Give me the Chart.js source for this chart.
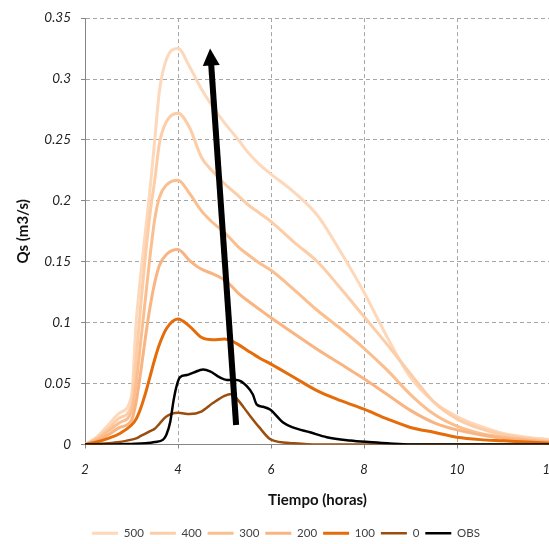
<!DOCTYPE html>
<html lang="es">
<head>
<meta charset="UTF-8">
<title>Qs vs Tiempo</title>
<script src="https://cdn.jsdelivr.net/npm/chart.js@4.4.1/dist/chart.umd.min.js"></script>
<style>
    html, body { margin: 0; padding: 0; background: #fff; overflow: hidden; }
    #wrap { width: 572px; height: 549px; }
</style>
</head>
<body>
<div id="wrap"><canvas id="chart" width="572" height="549"></canvas></div>
<script>
    // hours shared by the simulated series
    const hours = [2, 2.25, 2.5, 2.75, 3, 3.1, 3.2, 3.3, 3.4, 3.5, 3.6, 3.75, 4, 4.25, 4.5, 4.75, 5, 5.15, 5.3, 5.5, 5.75, 6, 6.5, 7, 7.5, 8, 8.5, 9, 9.5, 10, 10.5, 11, 11.5, 12];

    const q500 = [0, 0.006, 0.016, 0.026, 0.04, 0.1, 0.14, 0.175, 0.21, 0.25, 0.29, 0.316, 0.325, 0.31, 0.292, 0.277, 0.264, 0.257, 0.25, 0.24, 0.23, 0.222, 0.207, 0.188, 0.158, 0.125, 0.088, 0.055, 0.035, 0.023, 0.015, 0.009, 0.006, 0.004];
    const q400 = [0, 0.005, 0.013, 0.022, 0.032, 0.07, 0.115, 0.155, 0.19, 0.217, 0.247, 0.265, 0.272, 0.26, 0.236, 0.224, 0.214, 0.209, 0.204, 0.197, 0.19, 0.183, 0.166, 0.15, 0.128, 0.105, 0.082, 0.058, 0.035, 0.021, 0.013, 0.008, 0.005, 0.003];
    const q300 = [0, 0.004, 0.011, 0.018, 0.027, 0.05, 0.085, 0.12, 0.155, 0.185, 0.203, 0.213, 0.217, 0.206, 0.192, 0.182, 0.174, 0.168, 0.162, 0.156, 0.149, 0.143, 0.127, 0.11, 0.095, 0.079, 0.061, 0.041, 0.025, 0.015, 0.009, 0.006, 0.004, 0.002];
    const q200 = [0, 0.003, 0.008, 0.014, 0.02, 0.035, 0.06, 0.088, 0.113, 0.133, 0.147, 0.156, 0.16, 0.151, 0.144, 0.14, 0.135, 0.13, 0.124, 0.118, 0.111, 0.104, 0.091, 0.078, 0.066, 0.054, 0.041, 0.028, 0.018, 0.012, 0.008, 0.005, 0.003, 0.002];
    const q100 = [0, 0.002, 0.005, 0.009, 0.016, 0.021, 0.03, 0.042, 0.056, 0.07, 0.082, 0.095, 0.103, 0.097, 0.088, 0.086, 0.0865, 0.085, 0.082, 0.077, 0.071, 0.066, 0.055, 0.044, 0.036, 0.029, 0.021, 0.014, 0.01, 0.006, 0.004, 0.003, 0.002, 0.001];
    const q0 = [0, 0.0005, 0.001, 0.002, 0.004, 0.005, 0.007, 0.009, 0.011, 0.013, 0.017, 0.023, 0.026, 0.025, 0.027, 0.034, 0.04, 0.0415, 0.036, 0.026, 0.014, 0.004, 0.001, 0, 0, 0, 0, 0, 0, 0, 0, 0, 0, 0];

    // observed hydrograph
    const obsHours = [2, 2.5, 3, 3.3, 3.5, 3.68, 3.75, 3.83, 3.9, 3.95, 4.04, 4.19, 4.33, 4.54, 4.69, 4.9, 5.05, 5.26, 5.48, 5.61, 5.69, 5.83, 5.98, 6.26, 6.47, 6.84, 7.2, 7.7, 8.1, 8.5, 9, 10, 11, 12];
    const obsQ = [0, 0, 0.0005, 0.001, 0.002, 0.004, 0.008, 0.018, 0.035, 0.045, 0.055, 0.057, 0.059, 0.0615, 0.06, 0.055, 0.053, 0.053, 0.048, 0.041, 0.033, 0.031, 0.0287, 0.018, 0.014, 0.01, 0.006, 0.0033, 0.002, 0.001, 0, 0, 0, 0];

    const seriesLabels = ['500', '400', '300', '200', '100', '0', 'OBS'];
    const seriesColors = ['#FDD8BA', '#FCCDA7', '#FBBF8F', '#F9B482', '#E46C0A', '#9A4D0D', '#000000'];

    // arrow annotation, in data units
    const arrowTail = [5.25, 0.016];
    const arrowTip = [4.69, 0.325];

    const pts = (xs, ys) => xs.map((h, i) => ({ x: h, y: ys[i] }));

    const allSeries = [
        pts(hours, q500), pts(hours, q400), pts(hours, q300), pts(hours, q200),
        pts(hours, q100), pts(hours, q0), pts(obsHours, obsQ)
    ];

    // reversed so OBS is drawn on top; legend is reversed back
    const datasets = allSeries.map((d, i) => ({
        label: seriesLabels[i],
        data: d,
        borderColor: seriesColors[i],
        backgroundColor: seriesColors[i],
        borderWidth: i >= 5 ? 2.5 : 3,
        pointRadius: 0,
        fill: false,
        cubicInterpolationMode: 'monotone'
    })).reverse();

    const arrowPlugin = {
        id: 'arrow',
        afterDatasetsDraw(chart) {
            const { ctx, scales: { x, y } } = chart;
            const x0 = x.getPixelForValue(arrowTail[0]), y0 = y.getPixelForValue(arrowTail[1]);
            const x1 = x.getPixelForValue(arrowTip[0]), y1 = y.getPixelForValue(arrowTip[1]);
            const a = Math.atan2(y1 - y0, x1 - x0);
            const headLen = 17, headHalf = 8.5;
            const bx = x1 - Math.cos(a) * headLen, by = y1 - Math.sin(a) * headLen;
            ctx.save();
            ctx.strokeStyle = '#000';
            ctx.lineWidth = 6;
            ctx.beginPath();
            ctx.moveTo(x0, y0);
            ctx.lineTo(bx + Math.cos(a), by + Math.sin(a));
            ctx.stroke();
            ctx.fillStyle = '#000';
            ctx.beginPath();
            ctx.moveTo(x1, y1);
            ctx.lineTo(bx + Math.sin(a) * headHalf, by - Math.cos(a) * headHalf);
            ctx.lineTo(bx - Math.sin(a) * headHalf, by + Math.cos(a) * headHalf);
            ctx.closePath();
            ctx.fill();
            ctx.restore();
        }
    };

    const gridOpts = { color: '#a6a6a6', tickColor: '#868686', tickLength: 4, tickBorderDash: [] };
    const borderOpts = { color: '#868686', width: 1, dash: [4, 3] };

    new Chart(document.getElementById('chart'), {
        type: 'line',
        data: { datasets: datasets },
        plugins: [arrowPlugin],
        options: {
            responsive: false,
            animation: false,
            layout: { padding: { top: 18, left: 22, right: 22, bottom: 0 } },
            plugins: {
                legend: {
                    position: 'bottom',
                    reverse: true,
                    labels: {
                        usePointStyle: true,
                        pointStyle: 'line',
                        pointStyleWidth: 26,
                        padding: 6,
                        color: '#404040',
                        font: { family: 'Lato', size: 11.5 }
                    }
                },
                tooltip: { enabled: false }
            },
            scales: {
                x: {
                    type: 'linear',
                    min: 2,
                    max: 12,
                    ticks: { stepSize: 2, padding: 14, color: '#222', font: { family: 'Lato', style: 'italic', size: 13 } },
                    grid: gridOpts,
                    border: borderOpts,
                    title: {
                        display: true,
                        text: 'Tiempo (horas)',
                        color: '#111',
                        font: { family: 'Lato', weight: 'bold', size: 15 },
                        padding: { top: 0, bottom: 12 }
                    },
                    afterFit: s => { s.height = 77; }
                },
                y: {
                    min: 0,
                    max: 0.35,
                    ticks: {
                        stepSize: 0.05,
                        padding: 10,
                        color: '#222',
                        font: { family: 'Lato', style: 'italic', size: 13.5 },
                        callback: v => String(+v.toFixed(2))
                    },
                    grid: gridOpts,
                    border: borderOpts,
                    title: {
                        display: true,
                        text: 'Qs (m3/s)',
                        color: '#111',
                        font: { family: 'Lato', weight: 'bold', size: 15 },
                        padding: { top: -8, bottom: 0 }
                    },
                    afterFit: s => { s.width = 63; }
                }
            }
        }
    });
</script>
</body>
</html>
